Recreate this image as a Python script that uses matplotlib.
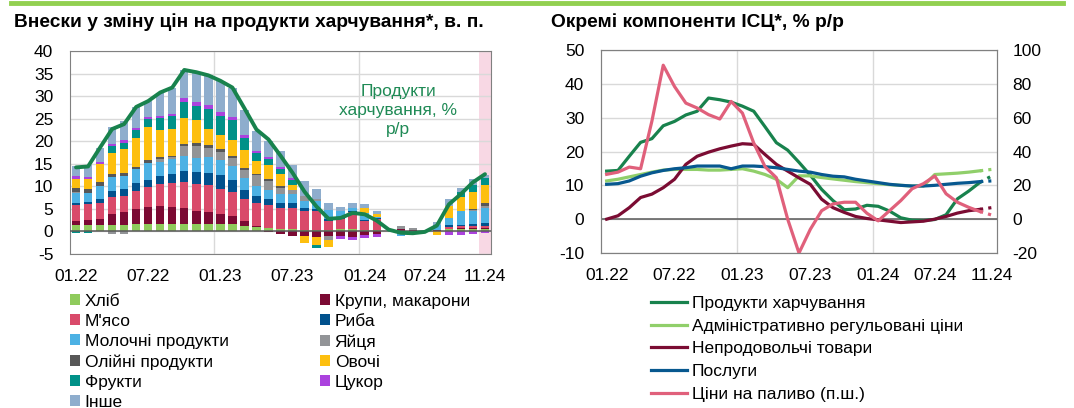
import numpy as np
import matplotlib.pyplot as plt
from matplotlib.lines import Line2D

plt.rcParams['font.family'] = ['Liberation Sans', 'DejaVu Sans']
plt.rcParams['axes.unicode_minus'] = False

# ---------------- data: left chart (contributions, p.p.) ----------------
months = np.arange(35)  # 01.22 ... 11.24
tick_pos = [0, 6, 12, 18, 24, 29, 34]
tick_labels = ['01.22', '07.22', '01.23', '07.23', '01.24', '07.24', '11.24']

bread = [1.4, 1.4, 1.4, 1.5, 1.5, 1.7, 1.7, 1.7, 1.7, 1.7, 1.7, 1.6, 1.6, 1.6, 1.3, 0.9, 0.7, 0.6,
         0.5, 0.4, 0.3, 0.3, 0.5, 0.5, 0.4, 0.3, 0, 0, 0, 0, 0.2, 0.5, 0.5, 0.6, 0.5]
grains = [1.0, 1.1, 1.3, 2.4, 2.9, 3.2, 3.8, 4.0, 3.8, 3.4, 2.9, 2.7, 2.2, 1.8, 1.1, 0.4, -0.2, -0.6,
          -1.0, -1.0, -1.2, -1.1, -1.1, -1.2, -0.8, -0.6, 0, 0.5, 0.4, 0, 0.1, 0.1, 0.2, 0.2, 0.3]
meat = [3.5, 3.5, 3.7, 3.7, 3.4, 4.1, 4.3, 4.8, 5.2, 5.8, 5.9, 5.9, 5.7, 5.3, 4.8, 5.0, 5.1, 4.7,
        4.8, 4.2, 4.2, 2.0, 2.2, 3.7, 2.0, 2.4, 0, 0, 0, 0, 0, 0.4, 0.4, 0.4, 0.4]
fish = [0.5, 0.5, 0.9, 1.3, 1.6, 1.7, 1.7, 1.8, 2.0, 2.6, 2.7, 2.7, 3.0, 2.6, 2.0, 1.6, 1.3, 1.1,
        1.0, 0.7, 0.5, 0.4, 0.2, 0.4, 0.2, 0.3, 0, 0, 0, 0, 0.1, 0.4, 0.4, 0.4, 0.7]
dairy = [2.1, 2.1, 2.8, 3.2, 3.0, 3.1, 3.7, 3.0, 3.3, 3.3, 3.0, 3.6, 3.3, 3.3, 2.6, 2.1, 2.0, 1.8,
         2.0, 1.5, 1.7, 2.0, 1.6, 0.7, 1.4, 0.3, 0, -1.1, -0.6, 0, 1.0, 1.5, 3.0, 3.0, 3.3]
eggs = [0.2, 0, 0, -0.5, -0.5, 0, 0, 0.7, 0.4, 2.1, 2.7, 2.1, 1.8, 1.7, 1.9, 2.5, 2.1, 1.5,
        0.9, 1.1, 0.5, -0.8, 0, 0, 0, 0, 0, 0.6, 0.3, 0, 0, 0, 0, 0.2, 0.5]
oil = [1.0, 0.9, 0.9, 0.7, 0.6, 0.4, 0.7, 0.5, 0.4, 0.5, 0.7, 0.5, 0.6, 0.5, 0.3, 0.2, 0.4, 0.4,
       0, 0, 0, 0, 0, 0, 0, 0, 0, 0, 0, 0, 0, 0.1, 0.1, 0.2, 0.6]
vegetables = [1.9, 2.2, 3.9, 4.7, 5.2, 6.6, 7.2, 5.9, 5.9, 5.7, 5.0, 3.7, 3.1, 3.5, 4.1, 3.0, 3.1, 2.6,
              1.0, -1.5, -1.9, -1.5, 0, 0, 1.1, 0.5, 0, 0, 0, 0, -0.8, 2.6, 3.1, 3.8, 4.1]
fruit = [-0.4, -0.4, 0, 1.5, 1.5, 1.6, 1.8, 2.8, 2.8, 3.5, 3.3, 4.3, 4.4, 4.4, 2.7, 1.7, 1.3, 1.1,
         1.3, 0, -0.5, 0, 0, 0, 0, 0, 0, 0, 0, 0, 0, 0, 1.0, 1.5, 1.5]
sugar = [0.6, 0.4, 0.4, 0.4, 0.5, 0.6, 0.5, 0.5, 0.5, 0.9, 0.9, 0.9, 0.7, 0.7, 0.5, 0.5, 0.6, 0.4,
         0.4, 0, 0, 0, -0.6, -0.6, -0.7, -0.6, 0, 0, 0, 0, 0, -0.8, -0.8, -0.6, -0.3]
other = [2.4, 2.6, 3.3, 3.8, 4.3, 4.6, 3.5, 5.1, 5.9, 6.3, 6.5, 6.6, 6.9, 6.3, 5.6, 4.4, 3.5, 3.6,
         2.8, 3.3, 2.2, 1.7, 1.0, 1.0, 0.9, 0.7, 0, 0, 0, 0, 0.7, 1.5, 1.0, 1.3, 0.7]

# food prices, % y/y (line on the left chart, also first series on the right chart)
food = [14.2, 14.4, 18.6, 22.7, 23.8, 27.6, 28.9, 30.8, 31.9, 35.8, 35.3, 34.6, 33.4, 31.9, 27.3, 22.6,
        20.4, 16.8, 13.0, 8.8, 5.5, 2.8, 3.0, 4.1, 3.8, 2.4, 0.4, -0.3, -0.4, -0.1, 1.3, 6.0, 8.3, 10.9, 12.7]

# ---------------- data: right chart (CPI components, % y/y) ----------------
admin = [11.3, 11.8, 12.5, 13.2, 13.9, 14.5, 14.7, 14.7, 14.7, 14.5, 14.5, 14.7, 14.9, 14.2, 13.2, 11.8,
         9.3, 12.8, 12.8, 12.3, 11.9, 11.5, 11.1, 10.8, 10.5, 10.2, 10.0, 9.8, 9.8, 13.2, 13.4, 13.6,
         13.9, 14.3, 14.7]
nonfood = [0, 1.0, 3.4, 6.4, 7.4, 9.3, 11.8, 16.2, 18.6, 19.8, 20.8, 21.6, 22.3, 22.1, 19.1, 16.2,
           14.2, 12.2, 10.3, 5.9, 3.4, 2.0, 0.8, 0.2, -0.2, -0.6, -1.0, -0.8, -0.6, 0, 0.8, 1.8,
           2.5, 2.9, 3.4]
services = [10.3, 10.5, 11.3, 12.7, 13.7, 14.4, 14.9, 15.2, 15.7, 15.7, 15.7, 14.9, 15.7, 15.7, 15.5,
            15.2, 14.7, 14.2, 13.9, 13.2, 12.7, 12.5, 11.8, 11.3, 10.8, 10.3, 10.0, 9.8, 9.8, 10.0,
            10.3, 10.6, 10.8, 11.1, 11.3]
fuel = [26.5, 27.8, 30.8, 29.8, 58.0, 91.0, 78.4, 68.6, 65.7, 61.8, 59.2, 69.6, 62.7, 45.0, 31.0, 24.5,
        0.0, -20.0, -6.0, 5.0, 9.0, 10.0, 10.0, 3.5, -1.0, 5.0, 11.0, 18.0, 21.0, 25.5, 15.0, 10.0,
        7.0, 4.5, 2.5]

components = [
    ('Хліб', bread, '#8fcb5c'),
    ('Крупи, макарони', grains, '#7b0a33'),
    ("М'ясо", meat, '#d94a6a'),
    ('Риба', fish, '#01518d'),
    ('Молочні продукти', dairy, '#4cb1e4'),
    ('Яйця', eggs, '#929497'),
    ('Олійні продукти', oil, '#575757'),
    ('Овочі', vegetables, '#fdbf0f'),
    ('Фрукти', fruit, '#009188'),
    ('Цукор', sugar, '#ab42de'),
    ('Інше', other, '#8eadcd'),
]

cpi_series = [
    ('Продукти харчування', food, '#18824d'),
    ('Адміністративно регульовані ціни', admin, '#90cf6a'),
    ('Непродовольчі товари', nonfood, '#7b0c33'),
    ('Послуги', services, '#07588f'),
]

GRID = '#d9d9d9'
FRAME = '#808080'
FS = 12.5

fig = plt.figure(figsize=(10.74, 4.08), dpi=100)

# green rule on top
fig.add_artist(Line2D([0.01, 0.99], [0.992, 0.992], color='#92d050', lw=3.5,
                      transform=fig.transFigure))

title_font = ['Liberation Sans Narrow', 'Liberation Sans', 'DejaVu Sans']
fig.text(14 / 1074, 1 - 22 / 408, 'Внески у зміну цін на продукти харчування*, в. п.',
         fontsize=13.8, fontweight='bold', family=title_font, va='center')
fig.text(551 / 1074, 1 - 22 / 408, 'Окремі компоненти ІСЦ*, % р/р',
         fontsize=13.8, fontweight='bold', family=title_font, va='center')

# ---------------- left chart ----------------
ax1 = fig.add_axes([70 / 1074, (408 - 254) / 408, 421 / 1074, 203 / 408])
ax1.axvspan(33.5, 34.5, color='#f8d8e4', zorder=0, lw=0)
pos_bottom = np.zeros(len(months))
neg_bottom = np.zeros(len(months))
bar_handles = []
for name, vals, color in components:
    v = np.array(vals, dtype=float)
    bottom = np.where(v >= 0, pos_bottom, neg_bottom)
    b = ax1.bar(months, v, width=0.7, bottom=bottom, color=color, label=name, zorder=2, lw=0)
    bar_handles.append(b)
    pos_bottom += np.clip(v, 0, None)
    neg_bottom += np.clip(v, None, 0)

ax1.plot(months, food, color='#18824d', lw=2.8, zorder=4, solid_capstyle='round')
ax1.text(26.8, 26.8, 'Продукти\nхарчування, %\nр/р', ha='center', va='center',
         color='#1f8a55', fontsize=FS, linespacing=1.3)

ax1.set_xlim(-0.5, 34.5)
ax1.set_ylim(-5, 40)
ax1.set_yticks(range(-5, 41, 5))
ax1.set_xticks(tick_pos)
ax1.set_xticklabels(tick_labels)
ax1.yaxis.grid(True, color=GRID, lw=1)
for xv in (11.5, 23.5):
    ax1.axvline(xv, color=GRID, lw=1, zorder=1)
ax1.axhline(0, color='#595959', lw=1.1, zorder=3)
ax1.set_axisbelow(True)
ax1.tick_params(axis='both', length=0, labelsize=FS)
ax1.tick_params(axis='x', pad=11)
ax1.tick_params(axis='y', pad=12)
for s in ax1.spines.values():
    s.set_color(FRAME)

# legend, row-major order as in the reference
order = [0, 2, 4, 6, 8, 10, 1, 3, 5, 7, 9]
fig.legend([bar_handles[i] for i in order], [components[i][0] for i in order],
           loc='upper left', bbox_to_anchor=(70 / 1074, 1 - 294 / 408), ncol=2,
           frameon=False, fontsize=FS, handlelength=0.6, handleheight=0.6,
           handletextpad=0.25, labelspacing=0.29, columnspacing=5.25,
           borderpad=0, borderaxespad=0)

# ---------------- right chart ----------------
ax2 = fig.add_axes([601 / 1074, (408 - 253) / 408, 396 / 1074, 203 / 408])
ax3 = ax2.twinx()

line_handles = []
for name, vals, color in cpi_series:
    h, = ax2.plot(months[:34], vals[:34], color=color, lw=2.3, label=name, zorder=3)
    ax2.plot(months[33:], vals[33:], color=color, lw=2.3, ls=(0, (1, 1.6)), zorder=3)
    line_handles.append(h)
h, = ax3.plot(months[:34], fuel[:34], color='#e0607b', lw=2.3, label='Ціни на паливо (п.ш.)', zorder=3)
ax3.plot(months[33:], fuel[33:], color='#e0607b', lw=2.3, ls=(0, (1, 1.6)), zorder=3)
line_handles.append(h)

ax2.set_xlim(-0.5, 34.5)
ax2.set_ylim(-10, 50)
ax3.set_ylim(-20, 100)
ax2.set_yticks(range(-10, 51, 10))
ax3.set_yticks(range(-20, 101, 20))
ax2.set_xticks(tick_pos)
ax2.set_xticklabels(tick_labels)
ax2.yaxis.grid(True, color=GRID, lw=1)
for xv in (11.5, 23.5):
    ax2.axvline(xv, color=GRID, lw=1, zorder=1)
ax2.axhline(0, color='#595959', lw=1.1, zorder=2)
ax2.set_axisbelow(True)
ax2.tick_params(axis='both', length=0, labelsize=FS)
ax2.tick_params(axis='x', pad=11)
ax2.tick_params(axis='y', pad=12)
ax3.tick_params(axis='y', length=0, labelsize=FS, pad=11)
for a in (ax2, ax3):
    for s in a.spines.values():
        s.set_color(FRAME)

fig.legend(line_handles, [hh.get_label() for hh in line_handles],
           loc='upper left', bbox_to_anchor=(651 / 1074, 1 - 296 / 408),
           frameon=False, fontsize=FS, handlelength=2.1, handletextpad=0.25,
           labelspacing=0.43, borderpad=0, borderaxespad=0)

fig.savefig('out.png', dpi=100)
